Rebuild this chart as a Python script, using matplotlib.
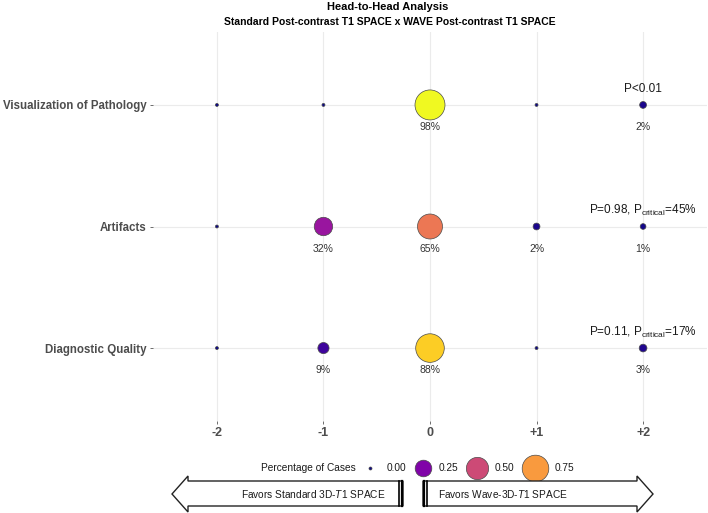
import matplotlib
matplotlib.use('Agg')
import matplotlib.pyplot as plt
from matplotlib.patches import Polygon
import numpy as np

plt.rcParams['font.family'] = ['Liberation Sans', 'DejaVu Sans']
plt.rcParams['mathtext.fontset'] = 'custom'
plt.rcParams['mathtext.rm'] = 'Liberation Sans'
plt.rcParams['mathtext.it'] = 'Liberation Sans:style=italic'
plt.rcParams['mathtext.bf'] = 'Liberation Sans:weight=bold'

# data
categories = ['Diagnostic Quality', 'Artifacts', 'Visualization of Pathology']
scores = [-2, -1, 0, 1, 2]
score_labels = ['-2', '-1', '0', '+1', '+2']
diag_pct = [0.00, 0.09, 0.88, 0.00, 0.03]
artif_pct = [0.00, 0.32, 0.65, 0.02, 0.01]
visual_pct = [0.00, 0.00, 0.98, 0.00, 0.02]
p_labels = ['P=0.11, P$_{\\mathrm{critical}}$=17%',
            'P=0.98, P$_{\\mathrm{critical}}$=45%',
            'P<0.01']
legend_vals = [0.00, 0.25, 0.50, 0.75]

rows = [diag_pct, artif_pct, visual_pct]
cmap = plt.get_cmap('plasma')
vmax = 0.98


def size_of(p):
    # diameter in px grows with sqrt of percentage, converted to points^2
    d_px = 3 + 27 * np.sqrt(np.asarray(p) / vmax)
    return (d_px * 0.72) ** 2


fig = plt.figure(figsize=(7.08, 5.13), dpi=100)
ax = fig.add_axes([153 / 708, 1 - 421 / 513, 554 / 708, 389 / 513])

for i, vals in enumerate(rows):
    vals = np.array(vals)
    ax.scatter(scores, [i] * len(scores), s=size_of(vals), c=vals, cmap='plasma',
               vmin=0, vmax=vmax, edgecolors='#4a4a4a', linewidths=0.5, zorder=3)
    for x, v in zip(scores, vals):
        if v > 0:
            ax.annotate(f'{v * 100:.0f}%', (x, i), xytext=(0, -16), textcoords='offset points',
                        ha='center', va='center', fontsize=7.5, color='#333333')
    ax.annotate(p_labels[i], (scores[-1], i), xytext=(0, 11.5), textcoords='offset points',
                ha='center', va='center', fontsize=8.5, color='#1a1a1a', annotation_clip=False)

ax.set_xlim(-2.6, 2.6)
ax.set_ylim(-0.6, 2.6)
ax.set_xticks(scores)
ax.set_xticklabels(score_labels, fontsize=9, fontweight='bold', color='#4D4D4D')
ax.set_yticks(range(len(categories)))
ax.set_yticklabels(categories, fontsize=8.3, fontweight='bold', color='#4D4D4D')
ax.tick_params(length=2.5, width=0.6, color='#555555', pad=2)
ax.grid(True, color='#EBEBEB', linewidth=0.8, zorder=0)
ax.set_axisbelow(True)
for sp in ax.spines.values():
    sp.set_visible(False)

fig.text(388 / 708, 1 - 7 / 513, 'Head-to-Head Analysis', ha='center', va='center',
         fontsize=8, fontweight='bold')
fig.text(390 / 708, 1 - 22 / 513, 'Standard Post-contrast T1 SPACE x WAVE Post-contrast T1 SPACE',
         ha='center', va='center', fontsize=7.5, fontweight='bold')

# overlay in pixel coordinates for legend and arrows
ov = fig.add_axes([0, 0, 1, 1])
ov.set_xlim(0, 708)
ov.set_ylim(513, 0)
ov.axis('off')

ov.text(261, 468, 'Percentage of Cases', ha='left', va='center', fontsize=7.3, color='#1a1a1a')
key_x = [370, 423, 477, 535]
label_x = [387, 439, 495, 555]
for kx, lx, v in zip(key_x, label_x, legend_vals):
    ov.scatter([kx], [468], s=size_of(v), color=cmap(v / vmax), edgecolors='#4a4a4a',
               linewidths=0.5)
    ov.text(lx, 468, f'{v:.2f}', ha='left', va='center', fontsize=7.3, color='#1a1a1a')

left_arrow = [(172, 494), (188, 476), (188, 481), (403, 481), (403, 506), (188, 506), (188, 512)]
right_arrow = [(653, 494), (637, 476), (637, 481), (423, 481), (423, 506), (637, 506), (637, 512)]
for pts in (left_arrow, right_arrow):
    ov.add_patch(Polygon(pts, closed=True, facecolor='white', edgecolor='#222222', linewidth=1.0))
ov.plot([399, 399], [481, 506], color='black', linewidth=1.2)
ov.plot([402, 402], [481, 506], color='black', linewidth=1.6)
ov.plot([424, 424], [481, 506], color='black', linewidth=1.6)
ov.plot([427, 427], [481, 506], color='black', linewidth=1.2)
ov.text(386, 494, 'Favors Standard 3D-$\\mathit{T1}$ SPACE', ha='right', va='center',
        fontsize=7.3, color='#1a1a1a')
ov.text(438, 494, 'Favors Wave-3D-$\\mathit{T1}$ SPACE', ha='left', va='center',
        fontsize=7.3, color='#1a1a1a')

fig.savefig('out.png', dpi=100)
